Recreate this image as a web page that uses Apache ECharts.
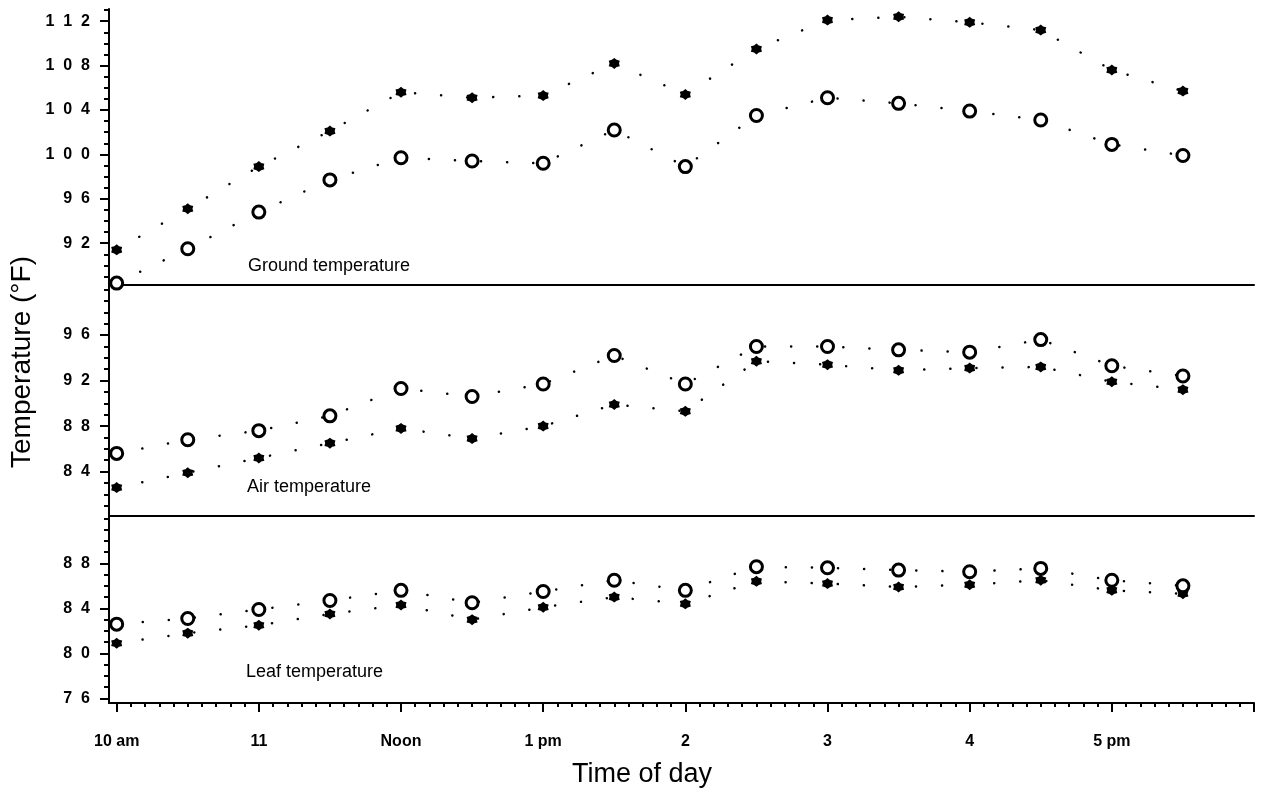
<!DOCTYPE html>
<html>
<head>
<meta charset="utf-8">
<script src="https://cdn.jsdelivr.net/npm/echarts@6/dist/echarts.min.js"></script>
<style>
html,body{margin:0;padding:0;background:#fff;}
#chart{width:1271px;height:806px;}
</style>
</head>
<body>
<div id="chart"></div>
<script>
// ---- data ----
const times = [10, 10.5, 11, 11.5, 12, 12.5, 13, 13.5, 14, 14.5, 15, 15.5, 16, 16.5, 17, 17.5];
const groundStar   = [91.4, 95.1, 98.9, 102.1, 105.6, 105.1, 105.3, 108.2, 105.4, 109.5, 112.1, 112.4, 111.9, 111.2, 107.6, 105.7];
const groundCircle = [88.4, 91.5, 94.8, 97.7, 99.7, 99.4, 99.2, 102.2, 98.9, 103.5, 105.1, 104.6, 103.9, 103.1, 100.9, 99.9];
const airStar      = [82.6, 83.9, 85.2, 86.5, 87.8, 86.9, 88.0, 89.9, 89.3, 93.7, 93.4, 92.9, 93.1, 93.2, 91.9, 91.2];
const airCircle    = [85.6, 86.8, 87.6, 88.9, 91.3, 90.6, 91.7, 94.2, 91.7, 95.0, 95.0, 94.7, 94.5, 95.6, 93.3, 92.4];
const leafStar     = [80.9, 81.8, 82.5, 83.5, 84.3, 83.0, 84.1, 85.0, 84.4, 86.4, 86.2, 85.9, 86.1, 86.5, 85.6, 85.3];
const leafCircle   = [82.6, 83.1, 83.9, 84.7, 85.6, 84.5, 85.5, 86.5, 85.6, 87.7, 87.6, 87.4, 87.25, 87.55, 86.5, 86.0];

const hourTicks = [10, 11, 12, 13, 14, 15, 16, 17, 18];
const hourLabelValues = [10, 11, 12, 13, 14, 15, 16, 17];
const hourLabelText = ['10 am', '11', 'Noon', '1 pm', '2', '3', '4', '5 pm'];
const groundTicks = [92, 96, 100, 104, 108, 112];
const airTicks = [84, 88, 92, 96];
const leafTicks = [76, 80, 84, 88];
const panelNames = ['Ground temperature', 'Air temperature', 'Leaf temperature'];
const yTitle = 'Temperature (°F)';
const xTitle = 'Time of day';

// ---- helpers ----
const FONT = '"Liberation Sans", Arial, Helvetica, sans-serif';
function range(a, b, step) {
  const out = [];
  const n = Math.round((b - a) / step);
  for (let i = 0; i <= n; i++) out.push(Math.round((a + i * step) * 1000) / 1000);
  return out;
}
const starPath = (function () {
  let s = 'path://';
  for (let k = 0; k < 12; k++) {
    const ang = (-90 + k * 30) * Math.PI / 180;
    const r = k % 2 === 0 ? 10 : 7.5;
    const x = (10 + r * Math.cos(ang)).toFixed(2);
    const y = (10 + r * Math.sin(ang)).toFixed(2);
    s += (k === 0 ? 'M' : 'L') + x + ' ' + y + ' ';
  }
  return s + 'Z';
})();
const spaced = v => String(v).split('').join('  ');

const X_MIN = 9.946, X_MAX = 18;
const panels = [
  {min: 88.23, max: 113.1, major: groundTicks, top: 9, height: 276},
  {min: 80.1, max: 100.4, major: airTicks, top: 285, height: 231},
  {min: 75.6, max: 92.2, major: leafTicks, top: 516, height: 187}
];

const grids = panels.map(p => ({left: 109, right: 17, top: p.top, height: p.height, containLabel: false}));

const axisLineStyle = {color: '#000', width: 2};
const xAxes = panels.map((p, i) => ({
  type: 'value', gridIndex: i, min: X_MIN, max: X_MAX, position: 'bottom',
  axisLine: {show: true, onZero: false, lineStyle: axisLineStyle},
  splitLine: {show: false},
  axisTick: i === 2 ? {show: true, length: 9, lineStyle: {color: '#000', width: 2}, customValues: hourTicks} : {show: false},
  axisLabel: i === 2 ? {
    show: true, customValues: hourLabelValues, margin: 31,
    fontFamily: FONT, fontSize: 16, fontWeight: 'bold', color: '#000',
    formatter: v => hourLabelText[hourLabelValues.indexOf(Math.round(v))] || ''
  } : {show: false}
}));
// minor ticks on the time axis
xAxes.push({
  type: 'value', gridIndex: 2, min: X_MIN, max: X_MAX, position: 'bottom',
  axisLine: {show: false}, splitLine: {show: false}, axisLabel: {show: false},
  axisTick: {show: true, length: 4, lineStyle: {color: '#000', width: 2}, customValues: range(10, 18, 0.1)}
});

const yAxes = panels.map((p, i) => ({
  type: 'value', gridIndex: i, min: p.min, max: p.max, position: 'left',
  axisLine: {show: true, onZero: false, lineStyle: axisLineStyle},
  splitLine: {show: false},
  axisTick: {show: true, length: 9, lineStyle: {color: '#000', width: 2}, customValues: p.major},
  axisLabel: {show: true, customValues: p.major, margin: 19, fontFamily: FONT, fontSize: 16,
    fontWeight: 'bold', color: '#000', formatter: v => spaced(Math.round(v))}
}));
panels.forEach((p, i) => {
  yAxes.push({
    type: 'value', gridIndex: i, min: p.min, max: p.max, position: 'left',
    axisLine: {show: false}, splitLine: {show: false}, axisLabel: {show: false},
    axisTick: {show: true, length: 5, lineStyle: {color: '#000', width: 2},
      customValues: range(Math.ceil(p.min), Math.floor(p.max), 1)}
  });
});

const dotLine = {color: '#000', width: 2.5, type: [0.1, 26], cap: 'round'};
function starSeries(arr, i) {
  return {
    type: 'line', xAxisIndex: i, yAxisIndex: i, data: times.map((t, k) => [t, arr[k]]),
    symbol: starPath, symbolSize: 11, showSymbol: true,
    itemStyle: {color: '#000', borderWidth: 0},
    lineStyle: dotLine, z: 3, animation: false
  };
}
function circleSeries(arr, i) {
  return {
    type: 'line', xAxisIndex: i, yAxisIndex: i, data: times.map((t, k) => [t, arr[k]]),
    symbol: 'circle', symbolSize: 12, showSymbol: true,
    itemStyle: {color: '#fff', borderColor: '#000', borderWidth: 3},
    lineStyle: dotLine, z: 4, animation: false
  };
}

const series = [
  starSeries(groundStar, 0), circleSeries(groundCircle, 0),
  starSeries(airStar, 1), circleSeries(airCircle, 1),
  starSeries(leafStar, 2), circleSeries(leafCircle, 2)
];

const labelStyle = {fontFamily: FONT, fontSize: 18, fill: '#000'};
const graphic = [
  {type: 'text', left: 248, top: 257, style: Object.assign({text: panelNames[0]}, labelStyle)},
  {type: 'text', left: 247, top: 478, style: Object.assign({text: panelNames[1]}, labelStyle)},
  {type: 'text', left: 246, top: 663, style: Object.assign({text: panelNames[2]}, labelStyle)},
  {type: 'text', x: 22, y: 362, rotation: Math.PI / 2,
    style: {text: yTitle, fontFamily: FONT, fontSize: 28, fill: '#000', align: 'center', verticalAlign: 'middle'}},
  {type: 'text', x: 642, y: 775,
    style: {text: xTitle, fontFamily: FONT, fontSize: 27, fill: '#000', align: 'center', verticalAlign: 'middle'}}
];

const chart = echarts.init(document.getElementById('chart'), null, {renderer: 'canvas'});
chart.setOption({
  backgroundColor: '#fff',
  animation: false,
  grid: grids,
  xAxis: xAxes,
  yAxis: yAxes,
  series: series,
  graphic: graphic
});
</script>
</body>
</html>
